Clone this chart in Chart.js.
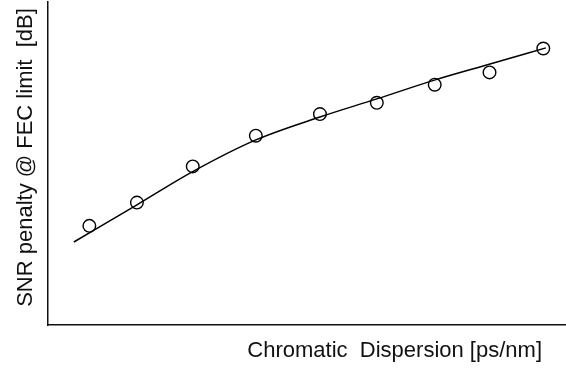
<!DOCTYPE html>
<html>
<head>
<meta charset="utf-8">
<title>SNR penalty vs Chromatic Dispersion</title>
<script src="https://cdn.jsdelivr.net/npm/chart.js@4"></script>
<style>
    html, body { margin: 0; padding: 0; background: #fff; }
    #chartBox { width: 566px; height: 368px; }
</style>
</head>
<body>
<div id="chartBox"><canvas id="snrChart" width="566" height="368"></canvas></div>
<script>
// Measured points (arbitrary units, axes have no tick labels)
const measuredX = [0.80, 1.72, 2.80, 4.02, 5.26, 6.36, 7.48, 8.54, 9.58];
const measuredY = [3.07, 3.79, 4.91, 5.86, 6.53, 6.88, 7.44, 7.82, 8.56];

// Fitted curve
const fitX = [0.50, 1.72, 2.79, 4.02, 5.26, 6.36, 7.49, 8.55, 9.63];
const fitY = [2.57, 3.72, 4.74, 5.73, 6.44, 7.00, 7.59, 8.08, 8.58];

// Axis ranges and titles
const xRange = [0, 10];
const yRange = [0, 10];
const xTitle = 'Chromatic  Dispersion [ps/nm]';
const yTitle = 'SNR penalty @ FEC limit  [dB]';

const toPoints = (xs, ys) => xs.map((x, i) => ({ x: x, y: ys[i] }));

// Draw the axis titles by hand so they sit where the original has them
const axisTitles = {
    id: 'axisTitles',
    afterDraw(chart) {
        const ctx = chart.ctx;
        const area = chart.chartArea;
        ctx.save();
        ctx.fillStyle = '#111';
        ctx.font = '22px "Liberation Sans", Arial, sans-serif';
        ctx.textBaseline = 'alphabetic';

        // x title, right aligned a bit before the end of the axis
        ctx.textAlign = 'right';
        ctx.fillText(xTitle, area.right - 23, area.bottom + 32);

        // y title, rotated
        ctx.translate(area.left - 16, (area.top + area.bottom) / 2 - 6);
        ctx.rotate(-Math.PI / 2);
        ctx.textAlign = 'center';
        ctx.fillText(yTitle, 0, 0);
        ctx.restore();
    }
};

document.addEventListener('DOMContentLoaded', () => {
    const ctx = document.getElementById('snrChart').getContext('2d');
    new Chart(ctx, {
        type: 'scatter',
        data: {
            datasets: [
                {
                    label: 'fit',
                    data: toPoints(fitX, fitY),
                    showLine: true,
                    borderColor: '#000',
                    borderWidth: 1.5,
                    pointRadius: 0,
                    cubicInterpolationMode: 'monotone',
                    fill: false
                },
                {
                    label: 'measured',
                    data: toPoints(measuredX, measuredY),
                    showLine: false,
                    pointStyle: 'circle',
                    pointRadius: 6.3,
                    pointBorderWidth: 1.4,
                    pointBorderColor: '#000',
                    pointBackgroundColor: 'rgba(0,0,0,0)'
                }
            ]
        },
        options: {
            responsive: false,
            animation: false,
            layout: {
                autoPadding: false,
                padding: { left: 48, top: 2, right: 1, bottom: 43 }
            },
            plugins: {
                legend: { display: false },
                tooltip: { enabled: false }
            },
            scales: {
                x: {
                    type: 'linear',
                    min: xRange[0],
                    max: xRange[1],
                    ticks: { display: false },
                    grid: { display: false, drawTicks: false },
                    border: { display: true, color: '#111', width: 1.5 }
                },
                y: {
                    type: 'linear',
                    min: yRange[0],
                    max: yRange[1],
                    ticks: { display: false },
                    grid: { display: false, drawTicks: false },
                    border: { display: true, color: '#111', width: 1.5 }
                }
            }
        },
        plugins: [axisTitles]
    });
});
</script>
</body>
</html>
